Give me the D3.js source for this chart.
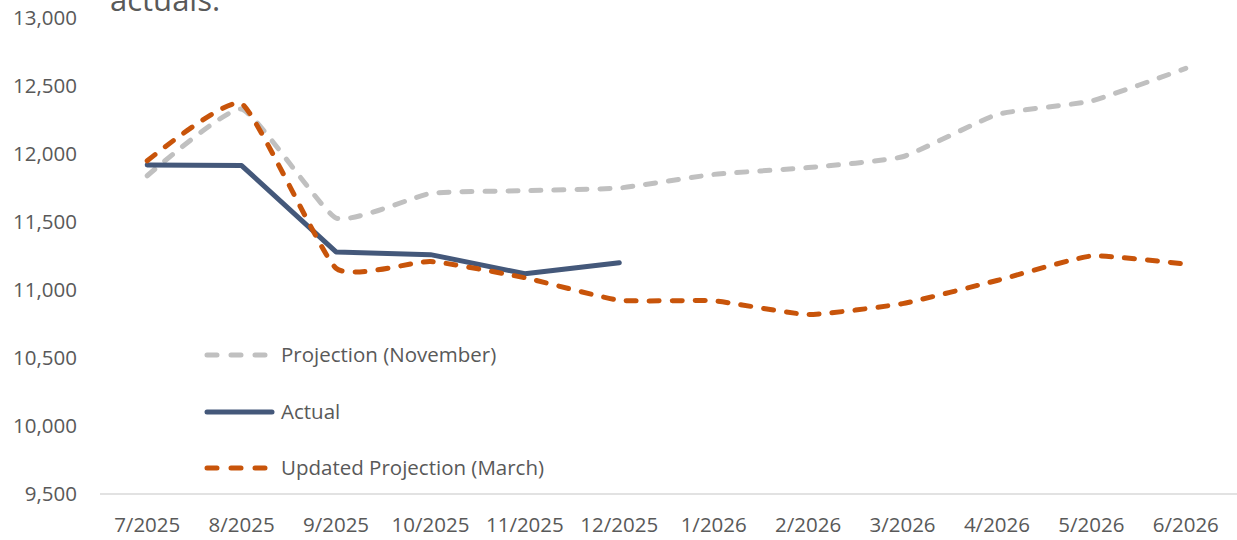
<html>
<head>
	<script src="https://d3js.org/d3.v7.min.js"></script>
	<style>
		body { margin: 0; background: #fff; }
		text { font-family: "Open Sans", "Noto Sans", sans-serif; fill: #595959; }
	</style>
</head>
<body>
	<svg></svg>
</body>
<script type="text/javascript">
	// months on the x axis
	var months = ["7/2025","8/2025","9/2025","10/2025","11/2025","12/2025","1/2026","2/2026","3/2026","4/2026","5/2026","6/2026"];
	var projNov = [11840, 12330, 11530, 11710, 11730, 11750, 11850, 11900, 11980, 12290, 12390, 12630];
	var actual = [11920, 11915, 11280, 11260, 11120, 11200];
	var projMar = [11950, 12370, 11160, 11210, 11090, 10925, 10920, 10820, 10900, 11070, 11250, 11190];
	var yTicks = [9500, 10000, 10500, 11000, 11500, 12000, 12500, 13000];

	var width = 1237, height = 540;
	var margin = {"left":100, "right":4, "top":18, "bottom":46};

	var svg = d3.select("svg")
		.attr("width", width)
		.attr("height", height);

	var x = d3.scaleBand()
		.domain(months)
		.range([margin.left, width - margin.right]);
	var y = d3.scaleLinear()
		.domain([9500, 13000])
		.range([height - margin.bottom, margin.top]);

	// title (only the tail of it shows)
	svg.append("text")
		.attr("x", 110)
		.attr("y", 11)
		.style("font-size", "31px")
		.style("fill", "#595959")
		.text("actuals.");

	// axis line, no ticks
	svg.append("line")
		.attr("x1", margin.left).attr("x2", width)
		.attr("y1", y(9500)).attr("y2", y(9500))
		.attr("stroke", "#d9d9d9")
		.attr("stroke-width", 1.5);

	svg.selectAll(".ylab")
		.data(yTicks)
		.enter().append("text")
		.attr("class", "ylab")
		.attr("x", 77)
		.attr("y", function(d){ return y(d); })
		.attr("dy", "0.35em")
		.attr("text-anchor", "end")
		.style("font-size", "20.5px")
		.text(d3.format(","));

	svg.selectAll(".xlab")
		.data(months)
		.enter().append("text")
		.attr("class", "xlab")
		.attr("x", function(d){ return x(d) + x.bandwidth()/2; })
		.attr("y", 532)
		.attr("text-anchor", "middle")
		.style("font-size", "20.5px")
		.text(function(d){ return d; });

	var cx = function(d, i){ return x(months[i]) + x.bandwidth()/2; };
	var smooth = d3.line().x(cx).y(function(d){ return y(d); }).curve(d3.curveCardinal.tension(0.55));
	var straight = d3.line().x(cx).y(function(d){ return y(d); });

	var series = [
		{"name":"Projection (November)", "values":projNov, "color":"#c0c0c0", "dash":"10,13", "line":smooth},
		{"name":"Actual", "values":actual, "color":"#44587a", "dash":null, "line":straight},
		{"name":"Updated Projection (March)", "values":projMar, "color":"#c8540a", "dash":"10,13", "line":smooth}
	];

	series.forEach(function(s){
		svg.append("path")
			.attr("d", s.line(s.values))
			.attr("fill", "none")
			.attr("stroke", s.color)
			.attr("stroke-width", 5)
			.attr("stroke-linecap", "round")
			.attr("stroke-linejoin", "round")
			.attr("stroke-dasharray", s.dash);
	});

	// legend inside the plot
	var legendY = [355, 412, 468];
	series.forEach(function(s, i){
		svg.append("line")
			.attr("x1", 207).attr("x2", 272)
			.attr("y1", legendY[i]).attr("y2", legendY[i])
			.attr("stroke", s.color)
			.attr("stroke-width", 5)
			.attr("stroke-linecap", "round")
			.attr("stroke-dasharray", s.dash ? "10,14" : null);
		svg.append("text")
			.attr("x", 281)
			.attr("y", legendY[i])
			.attr("dy", "0.35em")
			.style("font-size", "20.5px")
			.text(s.name);
	});
</script>
</html>
